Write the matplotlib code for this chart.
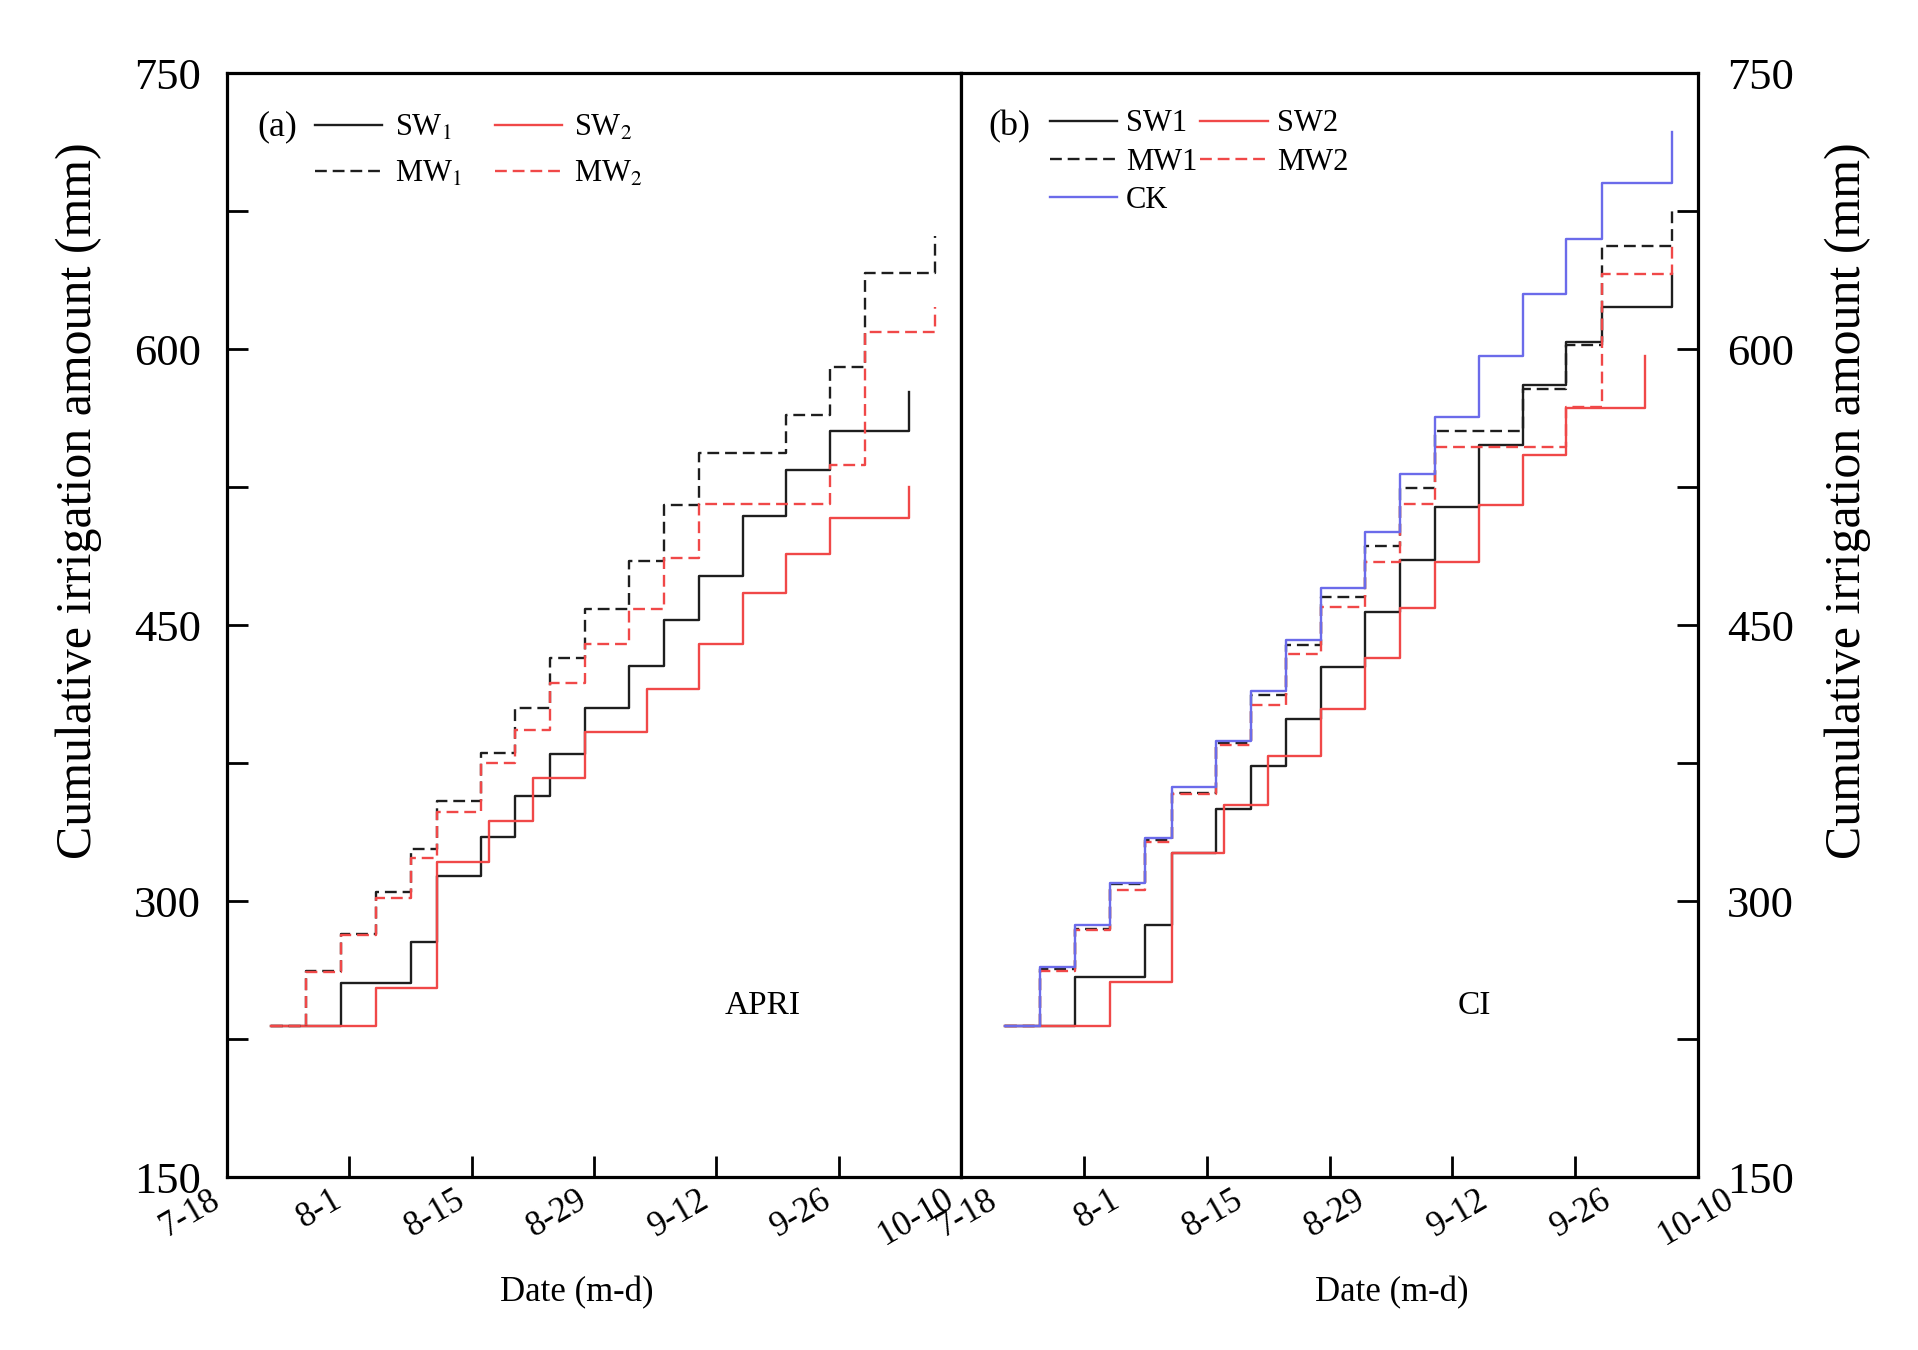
import matplotlib
matplotlib.use('Agg')
import matplotlib.pyplot as plt
import matplotlib.transforms as mtransforms
from matplotlib.ticker import MultipleLocator

plt.rcParams['font.family'] = ['Liberation Serif', 'DejaVu Serif']
plt.rcParams['mathtext.fontset'] = 'stix'

# ---- data: x = days after 7-18, y = cumulative irrigation (mm) ----
tick_days = [0, 14, 28, 42, 56, 70, 84]
date_labels = ['7-18', '8-1', '8-15', '8-29', '9-12', '9-26', '10-10']

# Panel (a) APRI
a_sw1_days = [5, 13, 21, 24, 29, 33, 37, 41, 46, 50, 54, 59, 64, 69, 78]
a_sw1_vals = [232, 255.5, 278, 313.5, 335, 357, 380, 405, 428, 452.5, 476.5, 509, 534.5, 555.5, 576.5]
a_sw2_days = [5, 17, 24, 30, 35, 41, 48, 54, 59, 64, 69, 78]
a_sw2_vals = [232, 253, 321, 343.5, 367, 392, 415.5, 439.5, 467.5, 488.5, 508, 525]
a_mw1_days = [5, 9, 13, 17, 21, 24, 29, 33, 37, 41, 46, 50, 54, 64, 69, 73, 81]
a_mw1_vals = [232, 262, 282, 305, 328.5, 354.5, 380.5, 405, 432, 458.5, 485, 515, 543.5, 564, 590.5, 641.5, 661.5]
a_mw2_days = [5, 9, 13, 17, 21, 24, 29, 33, 37, 41, 46, 50, 54, 69, 73, 81]
a_mw2_vals = [232, 261.5, 281.5, 301.5, 323.5, 348.5, 375, 393, 418.5, 439.5, 458.5, 486.5, 516, 537, 609, 623]

# Panel (b) CI
b_sw1_days = [5, 13, 21, 24, 29, 33, 37, 41, 46, 50, 54, 59, 64, 69, 73, 81]
b_sw1_vals = [232, 258.5, 287, 326, 350, 373.5, 399, 427, 457, 485.5, 514, 548, 580.5, 604, 623, 641]
b_sw2_days = [5, 17, 24, 30, 35, 41, 46, 50, 54, 59, 64, 69, 78]
b_sw2_vals = [232, 256, 326, 352, 379, 404.5, 432, 459, 484.5, 515, 542.5, 568, 596]
b_mw1_days = [5, 9, 13, 17, 21, 24, 29, 33, 37, 41, 46, 50, 54, 64, 69, 73, 81]
b_mw1_vals = [232, 263, 285, 309, 333, 358.5, 386, 412, 439, 465, 493, 524.5, 555.5, 578.5, 602, 656, 676.5]
b_mw2_days = [5, 9, 13, 17, 21, 24, 29, 33, 37, 41, 46, 50, 54, 69, 73, 81]
b_mw2_vals = [232, 262, 284.5, 306, 332, 358, 385, 406.5, 434.5, 460, 484.5, 516, 546.5, 568.5, 641, 656]
b_ck_days = [5, 9, 13, 17, 21, 24, 29, 33, 37, 41, 46, 50, 54, 59, 64, 69, 73, 81]
b_ck_vals = [232, 264, 287, 310, 334.5, 362, 387, 414, 442, 470, 500.5, 532, 563, 596, 630, 660, 690.5, 718]

BLACK = '#1e1e1e'
RED = '#f04848'
BLUE = '#6b6bea'
LW = 1.7
DASH = (5, 2.5)

fig = plt.figure(figsize=(19.18, 13.5), dpi=100)
axa = fig.add_axes([0.1184, 0.1281, 0.3827, 0.8178])
axb = fig.add_axes([0.5011, 0.1281, 0.3842, 0.8178])


def style(ax, side, dx):
    ax.set_xlim(0, 84)
    ax.set_ylim(150, 750)
    ax.set_xticks(tick_days)
    ax.set_xticklabels(date_labels, rotation=30, ha='right', va='top',
                       rotation_mode='anchor', fontsize=25)
    ax.tick_params(axis='x', direction='in', length=15, width=2, pad=8,
                   top=False, bottom=True)
    off = mtransforms.ScaledTranslation(dx / 100.0, 5 / 100.0, fig.dpi_scale_trans)
    for lab in ax.get_xticklabels():
        lab.set_transform(lab.get_transform() + off)
    ax.yaxis.set_major_locator(MultipleLocator(150))
    ax.yaxis.set_minor_locator(MultipleLocator(75))
    if side == 'left':
        ax.tick_params(axis='y', which='both', direction='in', length=15, width=2,
                       left=True, right=False, labelleft=True, labelright=False,
                       labelsize=32, pad=19)
    else:
        ax.tick_params(axis='y', which='both', direction='in', length=15, width=2,
                       left=False, right=True, labelleft=False, labelright=True,
                       labelsize=32, pad=21)
    for sp in ax.spines.values():
        sp.set_linewidth(2.3)
    ax.set_xlabel('Date (m-d)', fontsize=25)


style(axa, 'left', -18)
style(axb, 'right', 25)

# panel a
h_sw1, = axa.plot(a_sw1_days, a_sw1_vals, drawstyle='steps-post', color=BLACK, lw=LW)
h_sw2, = axa.plot(a_sw2_days, a_sw2_vals, drawstyle='steps-post', color=RED, lw=LW)
h_mw1, = axa.plot(a_mw1_days, a_mw1_vals, drawstyle='steps-post', color=BLACK, lw=LW,
                  linestyle=(0, DASH))
h_mw2, = axa.plot(a_mw2_days, a_mw2_vals, drawstyle='steps-post', color=RED, lw=LW,
                  linestyle=(0, DASH))
axa.legend([h_sw1, h_mw1, h_sw2, h_mw2],
           ['SW$_{1}$', 'MW$_{1}$', 'SW$_{2}$', 'MW$_{2}$'],
           ncol=2, loc='upper left', bbox_to_anchor=(0.12, 0.963), frameon=False,
           fontsize=22, handlelength=2.2, handletextpad=0.4, columnspacing=1.1,
           labelspacing=0.55, borderpad=0, borderaxespad=0)
axa.text(0.068, 0.951, '(a)', transform=axa.transAxes, fontsize=26,
         ha='center', va='center')
axa.text(0.729, 0.155, 'APRI', transform=axa.transAxes, fontsize=24,
         ha='center', va='center')
axa.set_ylabel('Cumulative irrigation amount (mm)', fontsize=36)
axa.yaxis.set_label_coords(-0.17, 0.613)
axa.xaxis.set_label_coords(0.477, -0.09)

# panel b
g_sw1, = axb.plot(b_sw1_days, b_sw1_vals, drawstyle='steps-post', color=BLACK, lw=LW)
g_sw2, = axb.plot(b_sw2_days, b_sw2_vals, drawstyle='steps-post', color=RED, lw=LW)
g_mw1, = axb.plot(b_mw1_days, b_mw1_vals, drawstyle='steps-post', color=BLACK, lw=LW,
                  linestyle=(0, DASH))
g_mw2, = axb.plot(b_mw2_days, b_mw2_vals, drawstyle='steps-post', color=RED, lw=LW,
                  linestyle=(0, DASH))
g_ck, = axb.plot(b_ck_days, b_ck_vals, drawstyle='steps-post', color=BLUE, lw=LW)
axb.legend([g_sw1, g_mw1, g_ck, g_sw2, g_mw2],
           ['SW1', 'MW1', 'CK', 'SW2', 'MW2'],
           ncol=2, loc='upper left', bbox_to_anchor=(0.12, 0.967), frameon=False,
           fontsize=22, handlelength=2.2, handletextpad=0.3, columnspacing=0.1,
           labelspacing=0.3, borderpad=0, borderaxespad=0)
axb.text(0.065, 0.951, '(b)', transform=axb.transAxes, fontsize=26,
         ha='center', va='center')
axb.text(0.697, 0.155, 'CI', transform=axb.transAxes, fontsize=24,
         ha='center', va='center')
axb.yaxis.set_label_position('right')
axb.set_ylabel('Cumulative irrigation amount (mm)', fontsize=36, rotation=90)
axb.yaxis.set_label_coords(1.172, 0.613)
axb.xaxis.set_label_coords(0.584, -0.09)

fig.savefig('out.png', dpi=100, facecolor='white')
